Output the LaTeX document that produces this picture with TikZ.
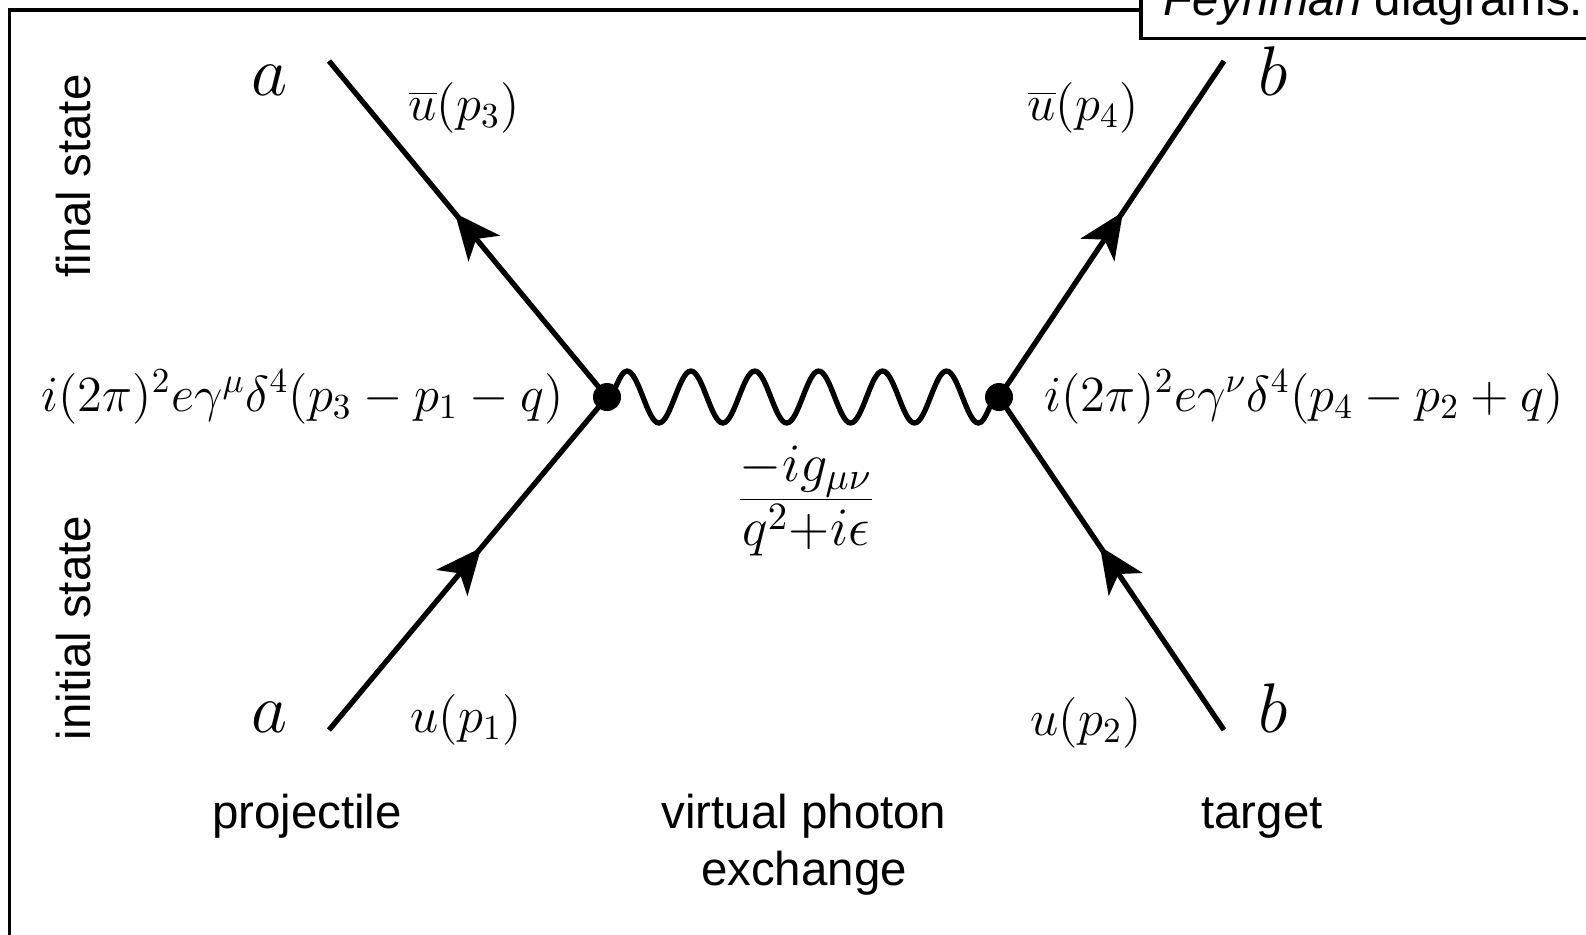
\documentclass[tikz,border=0pt]{standalone}
\usepackage{fix-cm}
\usepackage{fontspec}
\newfontfamily\arial{Liberation Sans}
\usetikzlibrary{arrows.meta,decorations.pathmorphing,decorations.markings}

\begin{document}
\begin{tikzpicture}[>=Stealth,
  fermion/.style={line width=1.5pt,postaction={decorate},
    decoration={markings,mark=at position 0.5 with {\arrow[xshift=6pt]{Stealth[length=13pt,width=11.5pt,inset=3.5pt]}}}},
  photon/.style={line width=1.5pt,decorate,decoration={snake,amplitude=0.26cm,segment length=0.639cm}},
  vtx/.style={circle,fill,inner sep=0pt,minimum size=0.28cm},
  mlbl/.style={font=\Large,inner sep=0pt},
  plbl/.style={font=\fontsize{20}{24}\selectfont,inner sep=0pt},
  slbl/.style={font=\arial\fontsize{13.5}{16.2}\selectfont,inner sep=0pt,align=center}]
\useasboundingbox (0,0) rectangle (15.86,-9.34);
\clip (0,0) rectangle (15.86,-9.34);
% frame and title tab
\draw[line width=1.1pt] (0.095,-9.6) -- (0.095,-0.10) -- (11.41,-0.10);
\draw[line width=1.1pt,fill=white] (11.41,0.5) rectangle (16.2,-0.385);
\node[slbl,anchor=base west] (title) at (11.63,-0.15) {\textit{Feynman} diagrams.};
% vertices and external points
\coordinate (v1) at (6.07,-3.97);
\coordinate (v2) at (9.99,-3.97);
\coordinate (pa1) at (3.29,-7.30);
\coordinate (pa3) at (3.29,-0.61);
\coordinate (pb2) at (12.24,-7.30);
\coordinate (pb4) at (12.24,-0.61);
\foreach \s/\e in {v1/pa3,pa1/v1,v2/pb4,pb2/v2}
  \draw[fermion] (\s) -- (\e);
\draw[photon] (v1) -- (v2);
\node[vtx] (d1) at (v1) {};
\node[vtx] (d2) at (v2) {};
% particle labels
\node[plbl,anchor=base] (na3) at (2.70,-0.95) {$a$};
\node[plbl,anchor=base] (na1) at (2.70,-7.32) {$a$};
\node[plbl,anchor=base] (nb4) at (12.73,-0.95) {$b$};
\node[plbl,anchor=base] (nb2) at (12.73,-7.32) {$b$};
\node[mlbl,anchor=base west] (u3) at (4.08,-1.20) {$\overline{u}(p_3)$};
\node[mlbl,anchor=base west] (u1) at (4.10,-7.32) {$u(p_1)$};
\node[mlbl,anchor=base west] (u4) at (10.27,-1.20) {$\overline{u}(p_4)$};
\node[mlbl,anchor=base west] (u2) at (10.30,-7.35) {$u(p_2)$};
% vertex factors and propagator
\node[mlbl,anchor=base east] (f1) at (5.64,-4.11) {$i(2\pi)^2e\gamma^\mu\delta^4(p_3-p_1-q)$};
\node[mlbl,anchor=base west] (f2) at (10.44,-4.11) {$i(2\pi)^2e\gamma^\nu\delta^4(p_4-p_2+q)$};
\node[font=\fontsize{22}{26}\selectfont,inner sep=0pt] (prop) at (8.06,-5.01) {$\frac{-ig_{\mu\nu}}{q^2+i\epsilon}$};
% captions
\node[slbl,rotate=90,anchor=base] (fin) at (0.90,-1.76) {final state};
\node[slbl,rotate=90,anchor=base] (ini) at (0.90,-6.28) {initial state};
\node[slbl,anchor=base] (proj) at (3.07,-8.28) {projectile};
\node[slbl,anchor=base] (targ) at (12.62,-8.28) {target};
\node[slbl] (exch) at (8.04,-8.45) {virtual photon\\exchange};
\end{tikzpicture}
\end{document}
